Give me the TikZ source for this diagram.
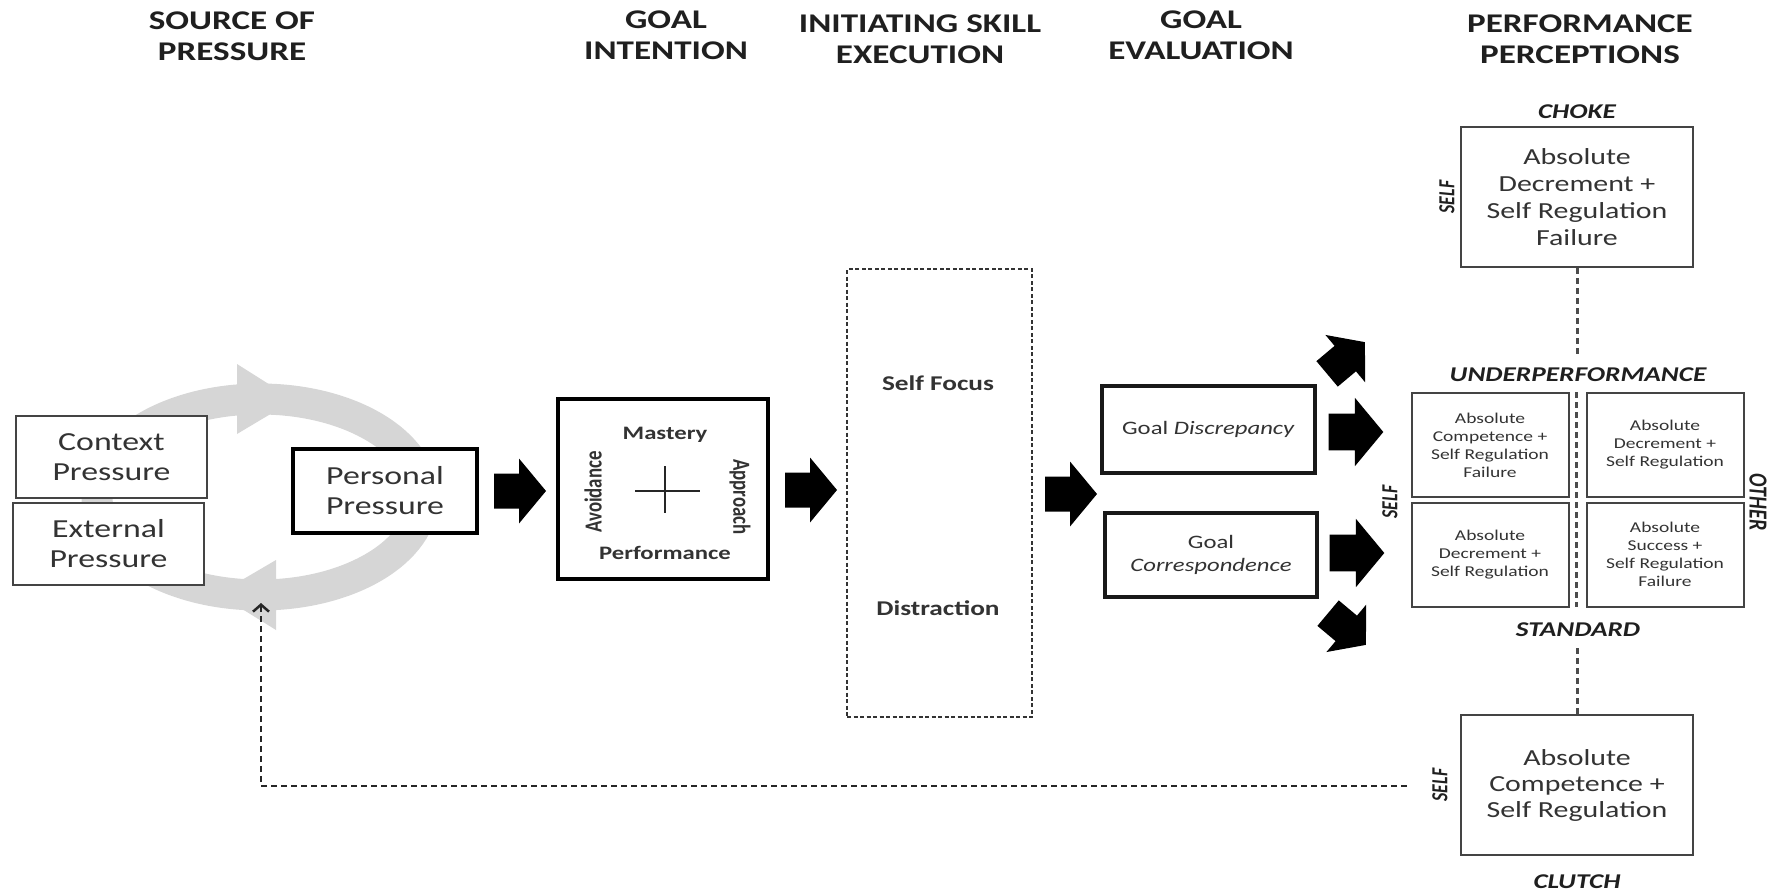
\documentclass[tikz,border=0pt]{standalone}
\usepackage{fontspec}
\setmainfont{Carlito}[FakeStretch=1.3]
\newfontfamily\rotfont{Carlito}[FakeStretch=0.77]
\usetikzlibrary{arrows.meta}
\definecolor{txt}{HTML}{333333}
\definecolor{ringgray}{HTML}{D6D6D6}
\definecolor{boxline}{HTML}{444444}
\newcommand\myfs[2]{\fontsize{#1}{#2}\selectfont}
\begin{document}
\begin{tikzpicture}[x=1pt,y=-1pt,
  header/.style={font=\bfseries\myfs{27}{31}, align=center, text=black!88, inner sep=0},
  thinbox/.style={draw=boxline, line width=2, fill=white, inner sep=0, align=center, text=txt},
  thickbox/.style={draw=black, line width=4, fill=white, inner sep=0, align=center, text=txt},
  midbox/.style={draw=black!90, line width=3.2, fill=white, inner sep=0, align=center, text=txt},
  perfbox/.style={draw=boxline, line width=2.5, fill=white, inner sep=0, align=center, text=txt},
  quadbox/.style={thinbox, minimum width=157, minimum height=104, font=\myfs{15}{18}},
  tag/.style={font=\bfseries\itshape\myfs{21}{24}, text=black!88, inner sep=0},
  rottag/.style={font=\rotfont\bfseries\itshape\myfs{23}{26}, text=black!88, inner sep=0},
  vdash/.style={draw=black!70, line width=3, dash pattern=on 6pt off 4pt},
  fb/.style={draw=black!85, line width=1.8, dash pattern=on 6pt off 4pt,
    -{Straight Barb[length=7pt,width=16pt,line width=2.5pt]}},
  blockarrow/.pic={\fill[black] (-26,-17.5) -- (-1,-17.5) -- (-1,-32.5) -- (26,0) -- (-1,32.5) -- (-1,17.5) -- (-26,17.5) -- cycle;}
]
\useasboundingbox (0,0) rectangle (1773,894);

% gray cycle
\draw[ringgray, line width=31] (260,497) ellipse [x radius=163, y radius=98];
\fill[ringgray] (237,364) -- (294,400) -- (237,434) -- cycle;
\fill[ringgray] (276,560) -- (218,594) -- (276,630) -- cycle;

% headers
\node[header] (h1) at (232,36) {SOURCE OF\\PRESSURE};
\node[header] (h2) at (666,35) {GOAL\\INTENTION};
\node[header] (h3) at (920,39) {INITIATING SKILL\\EXECUTION};
\node[header] (h4) at (1201,35) {GOAL\\EVALUATION};
\node[header] (h5) at (1580,39) {PERFORMANCE\\PERCEPTIONS};

% source of pressure
\node[thinbox, minimum width=191, minimum height=82, font=\myfs{26}{30}] (ctx) at (111.5,457) {Context\\Pressure};
\node[thinbox, minimum width=191, minimum height=82, font=\myfs{26}{30}] (ext) at (108.5,544) {External\\Pressure};
\node[thickbox, minimum width=184, minimum height=84, font=\myfs{26}{30}] (pers) at (385,491) {Personal\\Pressure};

% goal intention
\node[thickbox, minimum width=210, minimum height=180] (goal) at (663,489) {};
\node[font=\bfseries\myfs{19}{22}, text=txt, inner sep=0] (mast) at (665,435) {Mastery};
\node[font=\bfseries\myfs{19}{22}, text=txt, inner sep=0] (perf) at (665,553) {Performance};
\node[font=\rotfont\bfseries\myfs{24.5}{26}, text=txt, inner sep=0, rotate=90] (avoid) at (593,492) {Avoidance};
\node[font=\rotfont\bfseries\myfs{24.5}{26}, text=txt, inner sep=0, rotate=-90] (appr) at (740,497) {Approach};
\coordinate (cxl) at (635,491); \coordinate (cxr) at (700,491);
\coordinate (cyt) at (665,466); \coordinate (cyb) at (665,513);
\draw[line width=1.6, black!85] (cxl) -- (cxr) (cyt) -- (cyb);

% initiating skill execution
\node[draw=black!80, line width=2, dash pattern=on 4pt off 2.5pt, minimum width=185, minimum height=448, inner sep=0] (exec) at (939.5,493) {};
\node[font=\bfseries\myfs{21}{24}, text=txt, inner sep=0] (sf) at (938,383) {Self Focus};
\node[font=\bfseries\myfs{21}{24}, text=txt, inner sep=0] (dis) at (938,608) {Distraction};

% goal evaluation
\node[midbox, minimum width=213, minimum height=87, font=\myfs{19}{23}] (disc) at (1208.5,429.5) {Goal \textit{Discrepancy}};
\node[midbox, minimum width=212, minimum height=84, font=\myfs{19}{23}] (corr) at (1211,555) {Goal\\\textit{Correspondence}};

% block arrows
\pic at (520,491) {blockarrow};
\pic at (811,490) {blockarrow};
\pic at (1071,494) {blockarrow};
\pic[scale=1.05] at (1356,432) {blockarrow};
\pic[scale=1.05] at (1357,553) {blockarrow};
\pic[rotate=40, scale=0.95] at (1346,358) {blockarrow};
\pic[rotate=-40, scale=0.95] at (1347,629) {blockarrow};

% performance perceptions
\node[perfbox, minimum width=232, minimum height=140, font=\myfs{23}{27}] (choke) at (1577,197) {Absolute\\Decrement +\\Self Regulation\\Failure};
\node[perfbox, minimum width=232, minimum height=140, font=\myfs{23}{26}] (clutch) at (1577,785) {Absolute\\Competence +\\Self Regulation};
\node[quadbox] (tl) at (1490,445) {Absolute\\Competence +\\Self Regulation\\Failure};
\node[quadbox] (tr) at (1665,445) {Absolute\\Decrement +\\Self Regulation};
\node[quadbox] (bl) at (1490,554.5) {Absolute\\Decrement +\\Self Regulation};
\node[quadbox] (br) at (1665,554.5) {Absolute\\Success +\\Self Regulation\\Failure};

\node[tag] (tchoke) at (1577,112) {CHOKE};
\node[tag] (tunder) at (1578,375) {UNDERPERFORMANCE};
\node[tag] (tstd) at (1578,630) {STANDARD};
\node[tag] (tclutch) at (1577,882) {CLUTCH};
\node[rottag, rotate=90] (self1) at (1447,197) {SELF};
\node[rottag, rotate=90] (self2) at (1390,502) {SELF};
\node[rottag, rotate=90] (self3) at (1440,785) {SELF};
\node[rottag, rotate=-90, font=\rotfont\bfseries\itshape\myfs{26}{28}] (other) at (1758,502) {OTHER};

\coordinate (u1) at (1577,358);
\coordinate (q1) at (1576.5,392);
\coordinate (q2) at (1576.5,607);
\coordinate (s1) at (1577,648);
\draw[vdash] (choke.south) -- (u1);
\draw[vdash] (q1) -- (q2);
\draw[vdash] (s1) -- (clutch.north);

% feedback
\coordinate (fbs) at (1407,786);
\coordinate (fbe) at (261,603);
\draw[fb] (fbs) -| (fbe);
\end{tikzpicture}
\end{document}
